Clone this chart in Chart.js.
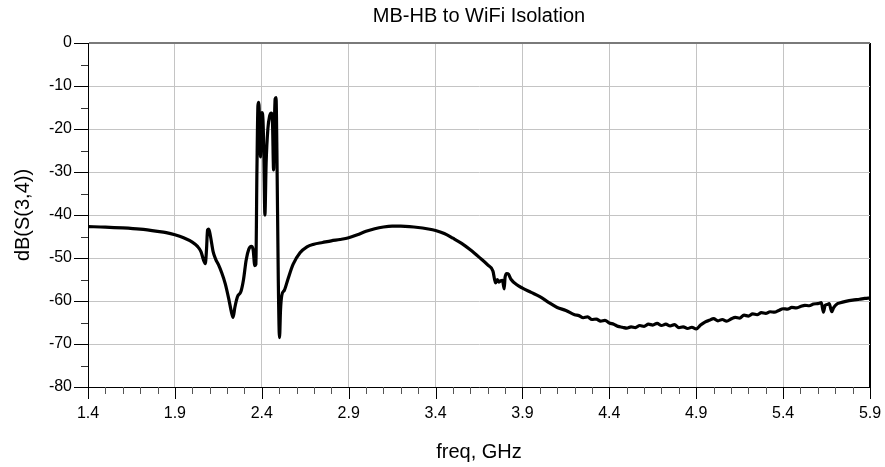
<!DOCTYPE html>
<html>
<head>
<meta charset="utf-8">
<title>MB-HB to WiFi Isolation</title>
<script src="https://cdn.jsdelivr.net/npm/chart.js@4/dist/chart.umd.min.js"></script>
<style>
  html, body { margin: 0; padding: 0; background: #ffffff; }
  #wrap { width: 885px; height: 467px; }
</style>
</head>
<body>
<div id="wrap"><canvas id="c" width="885" height="467"></canvas></div>
<script>
// Measured isolation between the MB-HB port and the WiFi port
const chartTitle = 'MB-HB to WiFi Isolation';
const xAxisTitle = 'freq, GHz';
const yAxisTitle = 'dB(S(3,4))';

const freqGHz = [
  1.40, 1.50, 1.60, 1.70, 1.80, 1.85, 1.90, 1.95, 2.00, 2.03, 2.05, 2.065, 2.075,
  2.082, 2.088, 2.095, 2.105, 2.12, 2.135, 2.15, 2.17, 2.19, 2.21, 2.225, 2.235,
  2.245, 2.26, 2.28, 2.295, 2.31, 2.325, 2.34, 2.35, 2.36, 2.366, 2.372, 2.378,
  2.383, 2.388, 2.392, 2.397, 2.402, 2.407, 2.412, 2.418, 2.425, 2.435, 2.445,
  2.455, 2.462, 2.468, 2.472, 2.477, 2.482, 2.487, 2.495, 2.502, 2.508, 2.515,
  2.53, 2.55, 2.58, 2.62, 2.66, 2.70, 2.75, 2.80, 2.85, 2.90, 2.95, 3.00, 3.05,
  3.10, 3.15, 3.20, 3.25, 3.30, 3.35, 3.40, 3.45, 3.50, 3.55, 3.60, 3.65, 3.70,
  3.73, 3.745, 3.755, 3.765, 3.775, 3.785, 3.795, 3.80, 3.81, 3.82, 3.835, 3.87,
  3.90, 3.95, 4.00, 4.05, 4.10, 4.15, 4.20, 4.225, 4.25, 4.275, 4.30, 4.325,
  4.35, 4.375, 4.40, 4.425, 4.45, 4.475, 4.50, 4.525, 4.55, 4.575, 4.60, 4.625,
  4.65, 4.675, 4.70, 4.725, 4.75, 4.775, 4.80, 4.825, 4.85, 4.875, 4.90, 4.925,
  4.95, 4.975, 5.00, 5.025, 5.05, 5.075, 5.10, 5.125, 5.15, 5.175, 5.20, 5.225,
  5.25, 5.275, 5.30, 5.325, 5.35, 5.375, 5.40, 5.425, 5.45, 5.475, 5.50, 5.525,
  5.55, 5.575, 5.60, 5.62, 5.632, 5.642, 5.655, 5.665, 5.68, 5.69, 5.71, 5.73,
  5.76, 5.80, 5.84, 5.87, 5.90
];

const isolationDb = [
  -42.7, -42.8, -43.0, -43.3, -43.8, -44.1, -44.6, -45.3, -46.3, -47.3, -48.5, -50.5, -51.3,
  -48.0, -43.5, -43.3, -45.0, -48.5, -50.3, -51.5, -53.5, -56.0, -59.5, -62.5, -63.8,
  -61.5, -59.0, -57.8, -55.0, -50.5, -48.0, -47.3, -48.0, -51.8, -51.5, -30.0, -14.5,
  -13.8, -20.0, -26.5, -17.0, -16.2, -18.0, -26.0, -40.0, -28.0, -20.0, -17.0,
  -16.3, -19.0, -29.5, -20.0, -13.0, -12.7, -25.0, -55.0, -68.5, -62.0, -58.7,
  -57.5, -55.0, -51.5, -48.8, -47.4, -46.8, -46.4, -46.0, -45.7, -45.3, -44.6, -43.8, -43.2,
  -42.8, -42.6, -42.6, -42.7, -42.9, -43.2, -43.6, -44.3, -45.4, -46.6, -48.1, -49.8, -51.6,
  -53.0, -55.8, -55.0, -55.6, -55.3, -55.2, -57.2, -54.5, -53.6, -53.8, -55.0, -56.3,
  -57.0, -58.0, -59.0, -60.3, -61.5, -62.2, -63.2, -63.4, -63.9, -63.7, -64.3, -64.2,
  -64.7, -64.5, -65.1, -65.4, -65.9, -66.1, -66.3, -66.0, -66.2, -65.7, -65.9, -65.4,
  -65.6, -65.2, -65.7, -65.4, -65.8, -65.5, -66.2, -66.0, -66.4, -66.1, -66.5, -65.6,
  -64.9, -64.5, -64.1, -64.6, -64.3, -64.7, -64.2, -63.8, -64.0, -63.3, -63.5, -63.0,
  -63.2, -62.7, -62.9, -62.5, -62.6, -62.2, -61.8, -61.9, -61.5, -61.6, -61.3, -61.0,
  -61.1, -60.7, -60.6, -60.4, -62.6, -61.0, -60.8, -60.6, -62.5, -61.6, -60.7, -60.4,
  -60.1, -59.8, -59.6, -59.4, -59.3
];

// Axis ranges and tick spacing
const xMin = 1.4, xMax = 5.9, xMajorStep = 0.5, xMinorStep = 0.1;
const yMin = -80, yMax = 0, yMajorStep = 10, yMinorStep = 5;

const FONT = '"Liberation Sans", Arial, Helvetica, sans-serif';

const points = freqGHz.map((f, i) => ({ x: f, y: isolationDb[i] }));

function isMajorX(v) {
  const k = Math.round((v - xMin) / xMinorStep);
  return k % Math.round(xMajorStep / xMinorStep) === 0;
}
function isMajorY(v) {
  return Math.round(v) % yMajorStep === 0;
}

// Draws major and minor tick marks outside the plot frame, plus the chart title
const frameTicks = {
  id: 'frameTicks',
  afterDraw(chart) {
    const { ctx, chartArea, scales } = chart;
    const xs = scales.x, ys = scales.y;
    ctx.save();
    ctx.lineWidth = 1;
    xs.ticks.forEach(t => {
      const px = Math.round(xs.getPixelForValue(t.value)) + 0.5;
      const major = isMajorX(t.value);
      ctx.strokeStyle = major ? '#000000' : '#555555';
      ctx.beginPath();
      ctx.moveTo(px, chartArea.bottom);
      ctx.lineTo(px, chartArea.bottom + (major ? 12 : 7));
      ctx.stroke();
    });
    ys.ticks.forEach(t => {
      const py = Math.round(ys.getPixelForValue(t.value)) + 0.5;
      const major = isMajorY(t.value);
      ctx.strokeStyle = major ? '#000000' : '#333333';
      ctx.beginPath();
      ctx.moveTo(chartArea.left, py);
      ctx.lineTo(chartArea.left - (major ? 14 : 7), py);
      ctx.stroke();
    });
    ctx.fillStyle = '#000000';
    ctx.font = '20px ' + FONT;
    ctx.textAlign = 'center';
    ctx.textBaseline = 'middle';
    ctx.fillText(chartTitle, (chartArea.left + chartArea.right) / 2, 16);
    ctx.restore();
  }
};

new Chart(document.getElementById('c'), {
  type: 'line',
  data: {
    datasets: [{
      data: points,
      borderColor: '#000000',
      borderWidth: 3.2,
      pointRadius: 0,
      fill: false,
      cubicInterpolationMode: 'monotone',
      borderJoinStyle: 'round',
      borderCapStyle: 'round'
    }]
  },
  options: {
    responsive: false,
    animation: false,
    layout: { padding: { top: 43, right: 1, left: 0, bottom: 0 } },
    plugins: {
      legend: { display: false },
      tooltip: { enabled: false },
      title: { display: false }
    },
    scales: {
      x: {
        type: 'linear',
        min: xMin,
        max: xMax,
        afterBuildTicks(scale) {
          const ticks = [];
          const n = Math.round((xMax - xMin) / xMinorStep);
          for (let i = 0; i <= n; i++) ticks.push({ value: +(xMin + i * xMinorStep).toFixed(2) });
          scale.ticks = ticks;
        },
        afterFit(scale) { scale.height = 80; scale.paddingRight = 15; },
        ticks: {
          autoSkip: false,
          maxRotation: 0,
          padding: 17,
          color: '#000000',
          font: { family: FONT, size: 16 },
          callback: v => isMajorX(v) ? v.toFixed(1) : ''
        },
        grid: {
          drawTicks: false,
          color: ctx => {
            const v = ctx.tick ? ctx.tick.value : null;
            if (v === null) return 'rgba(0,0,0,0)';
            if (Math.abs(v - xMax) < 1e-6) return '#000000';
            return isMajorX(v) ? '#c4c4c4' : 'rgba(0,0,0,0)';
          },
          lineWidth: ctx => (ctx.tick && Math.abs(ctx.tick.value - xMax) < 1e-6) ? 2 : 1
        },
        border: { display: true, color: '#000000', width: 1 },
        title: {
          display: true,
          text: xAxisTitle,
          color: '#000000',
          font: { family: FONT, size: 20 },
          padding: { top: 8, bottom: 3 }
        }
      },
      y: {
        type: 'linear',
        min: yMin,
        max: yMax,
        ticks: {
          stepSize: yMinorStep,
          autoSkip: false,
          padding: 16,
          color: '#000000',
          font: { family: FONT, size: 16 },
          callback: v => isMajorY(v) ? String(v) : ''
        },
        afterFit(scale) { scale.width = 88; },
        grid: {
          drawTicks: false,
          color: ctx => {
            const v = ctx.tick ? ctx.tick.value : null;
            if (v === null) return 'rgba(0,0,0,0)';
            if (v === yMax) return '#7a7a7a';
            return isMajorY(v) ? '#c4c4c4' : 'rgba(0,0,0,0)';
          },
          lineWidth: ctx => (ctx.tick && ctx.tick.value === yMax) ? 2 : 1
        },
        border: { display: true, color: '#000000', width: 1 },
        title: {
          display: true,
          text: yAxisTitle,
          color: '#000000',
          font: { family: FONT, size: 20 },
          padding: { top: 11, bottom: 0 }
        }
      }
    }
  },
  plugins: [frameTicks]
});
</script>
</body>
</html>
